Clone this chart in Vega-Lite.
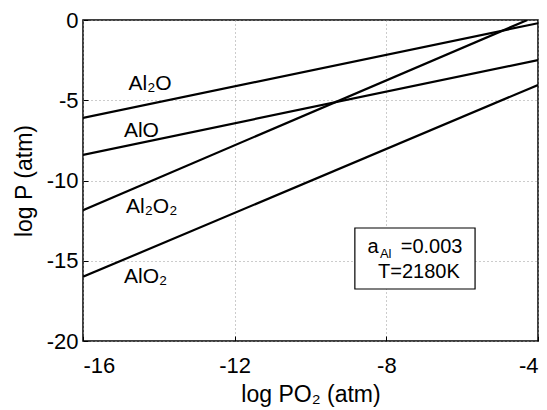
{
  "$schema": "https://vega.github.io/schema/vega-lite/v6.json",
  "width": 455,
  "height": 321,
  "autosize": "none",
  "padding": {"left": 83, "top": 20, "right": 9, "bottom": 69},
  "background": "white",
  "config": {
    "font": "Liberation Sans",
    "view": {"stroke": "black", "strokeWidth": 1.5},
    "axis": {
      "domain": false,
      "grid": true,
      "gridColor": "#999999",
      "gridDash": [1, 3],
      "gridWidth": 1,
      "tickColor": "black",
      "tickSize": -5,
      "labelFont": "Liberation Sans",
      "labelFontSize": 22,
      "labelColor": "black",
      "labelExpr": "replace(datum.label, '−', '-')",
      "titleFont": "Liberation Sans",
      "titleFontSize": 23,
      "titleFontWeight": "normal",
      "titleColor": "black"
    }
  },
  "datasets": {
    "lines": [
      {"species": "Al2O", "x": -16, "y": -6.1},
      {"species": "Al2O", "x": -4, "y": -0.2},
      {"species": "AlO", "x": -16, "y": -8.4},
      {"species": "AlO", "x": -4, "y": -2.5},
      {"species": "Al2O2", "x": -16, "y": -11.85},
      {"species": "Al2O2", "x": -4.28, "y": 0},
      {"species": "AlO2", "x": -16, "y": -16.0},
      {"species": "AlO2", "x": -4, "y": -4.05}
    ],
    "labels": [
      {"label": "Al₂O", "x": -14.23, "y": -4.36},
      {"label": "AlO", "x": -14.46, "y": -7.29},
      {"label": "Al₂O₂", "x": -14.19, "y": -12.02},
      {"label": "AlO₂", "x": -14.35, "y": -16.39}
    ],
    "box": [
      {"x": -8.83, "x2": -5.66, "y": -12.96, "y2": -16.76}
    ]
  },
  "layer": [
    {
      "data": {"name": "lines"},
      "mark": {"type": "line", "color": "black", "strokeWidth": 2.2, "clip": true},
      "encoding": {
        "x": {
          "field": "x", "type": "quantitative",
          "scale": {"domain": [-16, -4], "nice": false},
          "axis": {"values": [-16, -12, -8, -4], "title": "log PO₂ (atm)", "labelPadding": 19, "titlePadding": 7}
        },
        "y": {
          "field": "y", "type": "quantitative",
          "scale": {"domain": [-20, 0], "nice": false},
          "axis": {"values": [-20, -15, -10, -5, 0], "title": "log P (atm)", "labelPadding": 10, "titlePadding": 10}
        },
        "detail": {"field": "species"}
      }
    },
    {
      "data": {"name": "labels"},
      "mark": {"type": "text", "fontSize": 21, "align": "center", "baseline": "alphabetic", "color": "black"},
      "encoding": {
        "x": {"field": "x", "type": "quantitative"},
        "y": {"field": "y", "type": "quantitative"},
        "text": {"field": "label"}
      }
    },
    {
      "data": {"name": "box"},
      "mark": {"type": "rect", "fill": "white", "stroke": "black", "strokeWidth": 1.2},
      "encoding": {
        "x": {"field": "x", "type": "quantitative"},
        "x2": {"field": "x2"},
        "y": {"field": "y", "type": "quantitative"},
        "y2": {"field": "y2"}
      }
    },
    {
      "data": {"values": [
        {"t": "a", "x": -8.5, "y": -14.52},
        {"t": "=0.003", "x": -7.62, "y": -14.52},
        {"t": "T=2180K", "x": -8.22, "y": -16.07}
      ]},
      "mark": {"type": "text", "align": "left", "baseline": "alphabetic", "color": "black", "fontSize": 20},
      "encoding": {
        "x": {"field": "x", "type": "quantitative"},
        "y": {"field": "y", "type": "quantitative"},
        "text": {"field": "t"}
      }
    },
    {
      "data": {"values": [{"t": "Al", "x": -8.17, "y": -14.85}]},
      "mark": {"type": "text", "align": "left", "baseline": "alphabetic", "color": "black", "fontSize": 13},
      "encoding": {
        "x": {"field": "x", "type": "quantitative"},
        "y": {"field": "y", "type": "quantitative"},
        "text": {"field": "t"}
      }
    }
  ]
}
